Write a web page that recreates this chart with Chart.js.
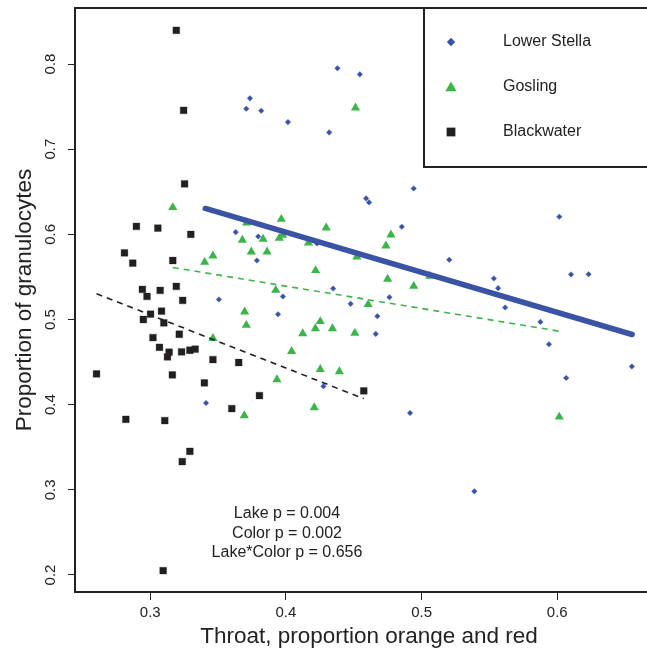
<!DOCTYPE html>
<html>
<head>
<meta charset="utf-8">
<script src="https://cdn.jsdelivr.net/npm/chart.js@4.4.1/dist/chart.umd.min.js"></script>
<style>html,body{margin:0;padding:0;background:#fff;overflow:hidden}</style>
</head>
<body>
<canvas id="c" width="647" height="651"></canvas>
<script>
// ---------- data ----------
const seriesNames = ['Lower Stella', 'Gosling', 'Blackwater'];

const stellaX = [0.3735,0.3708,0.3818,0.3630,0.3796,0.3786,0.3506,0.3411,0.4380,0.4545,0.4015,0.4319,0.4942,0.4591,0.4613,0.4854,0.4229,0.5204,0.4348,0.3978,0.4763,0.4477,0.4674,0.3942,0.4662,0.4277,0.4915,0.6015,0.6102,0.6231,0.5533,0.5564,0.5616,0.5876,0.5939,0.6550,0.6066,0.5389];
const stellaY = [0.7597,0.7475,0.7451,0.6026,0.5975,0.5693,0.5235,0.4020,0.7950,0.7879,0.7318,0.7197,0.6539,0.6422,0.6375,0.6089,0.5893,0.5701,0.5364,0.5271,0.5262,0.5184,0.5039,0.5062,0.4831,0.4216,0.3903,0.6206,0.5529,0.5532,0.5482,0.5368,0.5141,0.4972,0.4710,0.4448,0.4314,0.2982];

const goslingX = [0.3166,0.4513,0.3679,0.3832,0.3745,0.3861,0.3462,0.3401,0.3696,0.3708,0.3462,0.3693,0.3710,0.3966,0.4297,0.4774,0.3976,0.3951,0.4166,0.4737,0.4523,0.4219,0.4750,0.5061,0.4942,0.3925,0.4606,0.4253,0.4217,0.4343,0.4124,0.4508,0.4042,0.4253,0.4394,0.3934,0.4209,0.6015];
const goslingY = [0.6316,0.7486,0.5932,0.5944,0.5795,0.5795,0.5748,0.5673,0.5090,0.4933,0.4780,0.3872,0.6136,0.6178,0.6077,0.5995,0.5991,0.5955,0.5900,0.5865,0.5737,0.5576,0.5474,0.5509,0.5391,0.5344,0.5177,0.4977,0.4894,0.4894,0.4835,0.4839,0.4627,0.4416,0.4389,0.4295,0.3966,0.3856];

const blackwaterX = [0.3192,0.3246,0.3253,0.2898,0.3056,0.3299,0.2810,0.2871,0.3166,0.2942,0.3073,0.3192,0.2976,0.3239,0.3083,0.3002,0.2949,0.3100,0.3020,0.3214,0.3068,0.3139,0.3127,0.3231,0.3292,0.3331,0.3462,0.3652,0.2604,0.3163,0.3399,0.3805,0.3601,0.2820,0.3107,0.3292,0.3236,0.3095,0.4574];
const blackwaterY = [0.8396,0.7456,0.6593,0.6093,0.6073,0.5999,0.5783,0.5662,0.5693,0.5353,0.5341,0.5388,0.5271,0.5224,0.5098,0.5062,0.5000,0.4960,0.4788,0.4827,0.4674,0.4616,0.4561,0.4620,0.4639,0.4651,0.4530,0.4495,0.4361,0.4349,0.4256,0.4107,0.3954,0.3828,0.3813,0.3452,0.3331,0.2051,0.4162];

// fitted regression lines (end points)
const stellaFitX = [0.3406, 0.6552];
const stellaFitY = [0.6304, 0.4824];
const goslingFitX = [0.3166, 0.6017];
const goslingFitY = [0.5611, 0.4862];
const blackwaterFitX = [0.2604, 0.4574];
const blackwaterFitY = [0.5302, 0.4071];

const xTicks = [0.3, 0.4, 0.5, 0.6];
const yTicks = [0.2, 0.3, 0.4, 0.5, 0.6, 0.7, 0.8];
const xTitle = 'Throat, proportion orange and red';
const yTitle = 'Proportion of granulocytes';
const statLines = ['Lake p = 0.004', 'Color p = 0.002', 'Lake*Color p = 0.656'];

// ---------- styles ----------
const BLUE = '#3a53a4';
const GREEN = '#3bb54a';
const BLACK = '#231f20';
const INK = '#222222';
const FONT = '"Liberation Sans", Arial, sans-serif';
const markerStyles = [
  {pointStyle: 'rectRot', radius: 2.8, legendRadius: 4.2, color: BLUE},
  {pointStyle: 'triangle', radius: 5.3, legendRadius: 6.5, color: GREEN},
  {pointStyle: 'rect', radius: 4.8, legendRadius: 6.2, color: BLACK}
];

function pts(xs, ys) { return xs.map((x, i) => ({x: x, y: ys[i]})); }

const frameAndText = {
  id: 'frameAndText',
  afterDraw(chart) {
    const ctx = chart.ctx;
    const a = chart.chartArea;
    const ys = chart.scales.y;
    ctx.save();
    // frame
    ctx.strokeStyle = INK;
    ctx.lineWidth = 2;
    ctx.strokeRect(a.left, a.top, a.right - a.left + 20, a.bottom - a.top);

    // y tick labels (rotated, as in R)
    ctx.fillStyle = INK;
    ctx.font = '15px ' + FONT;
    ctx.textAlign = 'center';
    ctx.textBaseline = 'middle';
    yTicks.forEach(v => {
      const py = ys.getPixelForValue(v);
      ctx.save();
      ctx.translate(51, py);
      ctx.rotate(-Math.PI / 2);
      ctx.fillText(v.toFixed(1), 0, 0);
      ctx.restore();
    });

    // axis titles
    ctx.font = '22.5px ' + FONT;
    ctx.save();
    ctx.translate(25, (a.top + a.bottom) / 2);
    ctx.rotate(-Math.PI / 2);
    ctx.fillText(yTitle, 0, 0);
    ctx.restore();
    ctx.fillText(xTitle, 369, 637);

    // statistics text
    ctx.font = '16px ' + FONT;
    statLines.forEach((t, i) => ctx.fillText(t, 287, 514 + i * 19.5));

    // legend box
    ctx.fillStyle = '#ffffff';
    ctx.fillRect(424, 8, 260, 159);
    ctx.strokeStyle = INK;
    ctx.lineWidth = 2;
    ctx.strokeRect(424, 8, 260, 159);
    seriesNames.forEach((name, i) => {
      const y = 42 + i * 45;
      const m = markerStyles[i];
      ctx.fillStyle = m.color;
      Chart.helpers.drawPoint(ctx, {pointStyle: m.pointStyle, radius: m.legendRadius, rotation: 0, borderWidth: 0}, 451, y + (i === 1 ? 1 : 0));
      ctx.fillStyle = INK;
      ctx.font = '16px ' + FONT;
      ctx.textAlign = 'left';
      ctx.fillText(name, 503, y);
    });
    ctx.restore();
  }
};

const scatterSets = [pts(stellaX, stellaY), pts(goslingX, goslingY), pts(blackwaterX, blackwaterY)].map((d, i) => ({
  label: seriesNames[i],
  data: d,
  pointStyle: markerStyles[i].pointStyle,
  pointRadius: markerStyles[i].radius,
  pointHoverRadius: markerStyles[i].radius,
  backgroundColor: markerStyles[i].color,
  borderColor: i === 2 ? 'rgba(35,31,32,0.4)' : 'rgba(58,83,164,0.4)',
  borderWidth: i === 1 ? 0 : 0.8,
  showLine: false,
  order: 5 + i
}));

const lineSets = [
  {label: 'fitStella', data: pts(stellaFitX, stellaFitY), borderColor: BLUE, borderWidth: 5.5, borderCapStyle: 'round'},
  {label: 'fitGosling', data: pts(goslingFitX, goslingFitY), borderColor: GREEN, borderWidth: 1.6, borderDash: [6, 5]},
  {label: 'fitBlackwater', data: pts(blackwaterFitX, blackwaterFitY), borderColor: BLACK, borderWidth: 1.6, borderDash: [6, 5]}
].map(d => Object.assign(d, {showLine: true, pointRadius: 0, pointHoverRadius: 0, fill: false, order: 1}));

new Chart(document.getElementById('c'), {
  type: 'scatter',
  data: {datasets: scatterSets.concat(lineSets)},
  options: {
    responsive: false,
    animation: false,
    devicePixelRatio: 1,
    layout: {padding: {top: 8, right: 0, left: 0, bottom: 0}},
    plugins: {legend: {display: false}, tooltip: {enabled: false}},
    scales: {
      x: {
        type: 'linear',
        min: 0.244526,
        max: 0.662044,
        afterFit: s => { s.height = 59; },
        afterBuildTicks: s => { s.ticks = xTicks.map(v => ({value: v})); },
        border: {display: false},
        grid: {display: true, drawOnChartArea: false, drawTicks: true, tickLength: 8, color: INK, lineWidth: 1},
        ticks: {
          color: INK,
          font: {size: 15, family: FONT},
          padding: 4,
          maxRotation: 0,
          callback: v => Number(v).toFixed(1)
        }
      },
      y: {
        type: 'linear',
        min: 0.18002,
        max: 0.86580,
        afterFit: s => { s.width = 75; },
        afterBuildTicks: s => { s.ticks = yTicks.map(v => ({value: v})); },
        border: {display: false},
        grid: {display: true, drawOnChartArea: false, drawTicks: true, tickLength: 7, color: INK, lineWidth: 1},
        ticks: {display: false}
      }
    }
  },
  plugins: [frameAndText]
});
</script>
</body>
</html>
